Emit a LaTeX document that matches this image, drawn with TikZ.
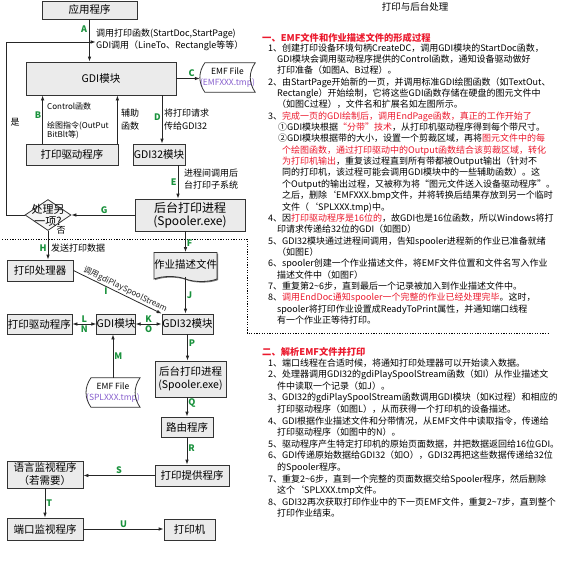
\documentclass[tikz,border=0pt]{standalone}
\usepackage{fontspec}
\setmainfont{Noto Sans CJK SC}
\usetikzlibrary{positioning, arrows.meta, calc, shapes.geometric, shapes.symbols, shadows}

\definecolor{lblgreen}{RGB}{25,145,60}
\definecolor{filepurple}{RGB}{135,95,205}
\definecolor{notered}{RGB}{235,25,45}
\newcommand{\hl}[1]{\textcolor{notered}{#1}}
\newcommand{\ind}{\hspace*{9pt}}
\newcommand{\indd}{\hspace*{14pt}}

\begin{document}
\begin{tikzpicture}[
    x=1pt, y=-1pt,
    >={Latex[length=5pt, width=3.6pt]},
    procbox/.style={draw=black!80, fill=gray!16, line width=0.8pt, align=center, inner sep=0pt,
        font=\fontsize{10.5}{13}\selectfont,
        drop shadow={shadow xshift=1.1pt, shadow yshift=-1.1pt, fill=black!55, opacity=1}},
    filebox/.style={inner sep=0pt, align=center, font=\fontsize{8.5}{11}\selectfont},
    fileline/.style={draw=black!80, line width=0.8pt},
    decision/.style={diamond, draw=black!80, fill=gray!8, line width=0.8pt, inner sep=0pt,
        minimum width=46pt, minimum height=31pt},
    lbl/.style={text=lblgreen, font=\bfseries\fontsize{9}{9}\selectfont, inner sep=1pt},
    note/.style={align=left, inner sep=0pt, font=\fontsize{9}{12}\selectfont},
    flow/.style={->, line width=0.8pt, black!85},
    both/.style={<->, line width=0.8pt, black!85},
    body/.style={align=left, inner sep=0pt, anchor=north west, font=\fontsize{9}{11.35}\selectfont},
    head/.style={inner sep=0pt, anchor=west, text=notered, font=\bfseries\fontsize{9.3}{11}\selectfont}
]
\useasboundingbox (0,0) rectangle (561,571);

% upper part: application -> GDI -> EMF file
\node[procbox, minimum width=95pt, minimum height=18pt] (app) at (89.5,10) {应用程序};
\node[procbox, minimum width=150pt, minimum height=33pt] (gdi) at (101,78.5) {GDI模块};
\node[filebox, minimum width=55pt, minimum height=29pt] (emfa) at (227.5,77.5) {EMF File\\\textcolor{filepurple}{(EMFXXX.tmp)}};
\draw[fileline] ([xshift=5pt]emfa.north west) to[bend right=35] ([xshift=5pt]emfa.south west) -- (emfa.south east) to[bend left=35] (emfa.north east) -- cycle;
\node[procbox, minimum width=92pt, minimum height=21pt] (drva) at (72,154.5) {打印驱动程序};
\node[procbox, minimum width=52pt, minimum height=21pt] (gdi32a) at (159,154.5) {GDI32模块};
\node[procbox, minimum width=110pt, minimum height=32pt, font=\fontsize{12}{13}\selectfont] (spoola) at (190,215) {后台打印进程\\(Spooler.exe)};
\node[decision] (dec) at (48,215) {};
\node[align=center, inner sep=0pt, font=\fontsize{11}{12}\selectfont] (dectext) at (dec) {处理另\\一项?};

\draw[flow] (app.south) -- node[lbl, left, pos=0.22, xshift=-1pt] {A} (app.south |- gdi.north);
\node[note, anchor=west] (callnote) at (96,39.5) {调用打印函数(StartDoc,StartPage)\\GDI调用（LineTo、Rectangle等等）};
\coordinate (loophit) at ($(app.south)!0.535!(gdi.north)$);
\draw[flow] (dec.west) -- ++(-18,0) |- (loophit);
\node[note] (yes) at (15,122) {是};
\node[note] (no) at (61,230) {否};

\draw[flow] (gdi.east) -- node[lbl, above, pos=0.65] {C} (gdi.east -| emfa.west);
\draw[flow] ([xshift=17pt]drva.north west) -- node[lbl, left, pos=0.6] {B} ([xshift=17pt]drva.north west |- gdi.south);
\node[note, anchor=west, font=\fontsize{8}{9.5}\selectfont] (ctrlnote) at (47,106) {Control函数};
\node[note, anchor=west, font=\fontsize{8}{9.5}\selectfont] (drawnote) at (47,130.5) {绘图指令(OutPut\\BitBlt等)};
\draw[flow] ([xshift=-1pt]drva.north east) -- ([xshift=-1pt]drva.north east |- gdi.south);
\node[note, anchor=west, font=\fontsize{9}{13}\selectfont] (helpnote) at (121,119.5) {辅助\\函数};
\draw[flow] ([xshift=3pt]gdi32a.north |- gdi.south) -- node[lbl, left, pos=0.45] {D} ([xshift=3pt]gdi32a.north);
\node[note, anchor=west, font=\fontsize{9}{13}\selectfont] (passnote) at (164,119.5) {将打印请求\\传给GDI32};
\draw[flow] ([xshift=19pt]gdi32a.south) -- node[lbl, left, pos=0.5] {E} ([xshift=19pt]gdi32a.south |- spoola.north);
\node[note, anchor=west] (ipcnote) at (184,179) {进程间调用后\\台打印子系统};
\draw[flow] (spoola.west) -- node[lbl, above, pos=0.48] {G} (dec.east);

% spooler region
\draw[dash pattern=on 1.2pt off 1.4pt, line width=0.9pt] (2,239) -- (247,239) -- (247,333) -- (548,333);

\node[procbox, minimum width=66pt, minimum height=21pt] (proc) at (40,270.5) {打印处理器};
\node[procbox, tape, tape bend top=none, tape bend bottom=out and in, tape bend height=5pt,
    minimum width=63pt, minimum height=29pt] (jobdoc) at (185.5,264.5) {作业描述文件};
\node[procbox, minimum width=65pt, minimum height=20pt] (drvb) at (39.5,324) {打印驱动程序};
\node[procbox, minimum width=38pt, minimum height=20pt] (gdib) at (116,324) {GDI模块};
\node[procbox, minimum width=51pt, minimum height=20pt] (gdi32b) at (187.5,324) {GDI32模块};
\node[procbox, minimum width=71pt, minimum height=36pt] (spoolb) at (190.5,379) {后台打印进程\\(Spooler.exe)};
\node[filebox, minimum width=44pt, minimum height=29pt] (emfb) at (113,392.5) {EMF File\\\textcolor{filepurple}{(SPLXXX.tmp)}};
\draw[fileline] ([xshift=5pt]emfb.north west) to[bend right=35] ([xshift=5pt]emfb.south west) -- (emfb.south east) to[bend left=35] (emfb.north east) -- cycle;
\node[procbox, minimum width=52pt, minimum height=20pt] (router) at (187,427) {路由程序};
\node[procbox, minimum width=74pt, minimum height=21pt] (provider) at (192,475.5) {打印提供程序};
\node[procbox, minimum width=76pt, minimum height=27pt] (lang) at (45,474.5) {语言监视程序\\（若需要）};
\node[procbox, minimum width=76pt, minimum height=22pt] (port) at (45,529) {端口监视程序};
\node[procbox, minimum width=51pt, minimum height=21pt] (printer) at (189.5,529.5) {打印机};

\draw[flow] (dec.south) -- node[lbl, left, pos=0.6] {H} (dec.south |- proc.north);
\node[note, anchor=west] (sendnote) at (51,248) {发送打印数据};
\draw[flow] (jobdoc.north |- spoola.south) -- node[lbl, right, pos=0.55] {F} (jobdoc.north);
\draw[flow] (proc.east) -- node[sloped, above, pos=0.56, inner sep=1pt, font=\fontsize{8}{10}\selectfont] {调用gdiPlaySpoolStream}
    node[lbl, below, pos=0.37] {I} (gdi32b.north west);
\draw[flow] (jobdoc.south) -- node[lbl, right, pos=0.5] {J} (jobdoc.south |- gdi32b.north);
\draw[both] (drvb.east) -- node[lbl, above] {L} node[lbl, below] {N} (gdib.west);
\draw[both] (gdib.east) -- node[lbl, above] {K} node[lbl, below] {O} (gdi32b.west);
\draw[flow] (emfb.north) -- node[lbl, right, pos=0.5] {M} (emfb.north |- gdib.south);
\draw[flow] (gdi32b.south) -- node[lbl, right, pos=0.35] {P} (gdi32b.south |- spoolb.north);
\draw[flow] (router.north |- spoolb.south) -- node[lbl, right, pos=0.3] {Q} (router.north);
\draw[flow] (router.south) -- node[lbl, right, pos=0.4] {R} (router.south |- provider.north);
\draw[flow] (provider.west) -- node[lbl, above] {S} (provider.west -| lang.east);
\draw[flow] (lang.south) -- node[lbl, right] {T} (lang.south |- port.north);
\draw[flow] (port.east) -- node[lbl, above] {U} (port.east -| printer.west);

% notes on the right
\node[inner sep=0pt, font=\fontsize{9.5}{11}\selectfont] (title) at (415,7) {打印与后台处理};
\node[head] (heada) at (262,38) {一、EMF文件和作业描述文件的形成过程};
\node[body] (seca) at (268,43.3) {%
1、创建打印设备环境句柄CreateDC，调用GDI模块的StartDoc函数，\\
\ind GDI模块会调用驱动程序提供的Control函数，通知设备驱动做好\\
\ind 打印准备（如图A、B过程）。\\
2、由StartPage开始新的一页，并调用标准GDI绘图函数（如TextOut、\\
\ind Rectangle）开始绘制，它将这些GDI函数存储在硬盘的图元文件中\\
\ind （如图C过程），文件名和扩展名如左图所示。\\
3、\hl{完成一页的GDI绘制后，调用EndPage函数，真正的工作开始了}\\
\hspace*{10pt}①GDI模块根据\hl{“分带”技术}，从打印机驱动程序得到每个带尺寸。\\
\hspace*{10pt}②GDI模块根据带的大小，设置一个剪裁区域，再将\hl{图元文件中的每}\\
\indd\hl{个绘图函数，通过打印驱动中的Output函数结合该剪裁区域，转化}\\
\indd\hl{为打印机输出}，重复该过程直到所有带都被Output输出（针对不\\
\indd 同的打印机，该过程可能会调用GDI模块中的一些辅助函数）。这\\
\indd 个Output的输出过程，又被称为将“图元文件送入设备驱动程序”。\\
\indd 之后，删除`EMFXXX.bmp文件，并将转换后结果存放到另一个临时\\
\indd 文件（`SPLXXX.tmp)中。\\
4、因\hl{打印驱动程序是16位的}，故GDI也是16位函数，所以Windows将打\\
\ind 印请求传递给32位的GDI（如图D）\\
5、GDI32模块通过进程间调用，告知spooler进程新的作业已准备就绪\\
\ind （如图E）\\
6、spooler创建一个作业描述文件，将EMF文件位置和文件名写入作业\\
\ind 描述文件中（如图F）\\
7、重复第2\textasciitilde 6步，直到最后一个记录被加入到作业描述文件中。\\
8、\hl{调用EndDoc通知spooler一个完整的作业已经处理完毕}。这时，\\
\ind spooler将打印作业设置成ReadyToPrint属性，并通知端口线程\\
\ind 有一个作业正等待打印。};
\node[head] (headb) at (262,352) {二、解析EMF文件并打印};
\node[body, font=\fontsize{9}{11.6}\selectfont] (secb) at (268,358.3) {%
1、端口线程在合适时候，将通知打印处理器可以开始读入数据。\\
2、处理器调用GDI32的gdiPlaySpoolStream函数（如I）从作业描述文\\
\ind 件中读取一个记录（如J）。\\
3、GDI32的gdiPlaySpoolStream函数调用GDI模块（如K过程）和相应的\\
\ind 打印驱动程序（如图L），从而获得一个打印机的设备描述。\\
4、GDI根据作业描述文件和分带情况，从EMF文件中读取指令，传递给\\
\ind 打印驱动程序（如图中的N）。\\
5、驱动程序产生特定打印机的原始页面数据，并把数据返回给16位GDI。\\
6、GDI传递原始数据给GDI32（如O），GDI32再把这些数据传递给32位\\
\ind 的Spooler程序。\\
7、重复2\textasciitilde 6步，直到一个完整的页面数据交给Spooler程序，然后删除\\
\ind 这个`SPLXXX.tmp文件。\\
8、GDI32再次获取打印作业中的下一页EMF文件，重复2\textasciitilde 7步，直到整个\\
\ind 打印作业结束。};
\end{tikzpicture}
\end{document}
